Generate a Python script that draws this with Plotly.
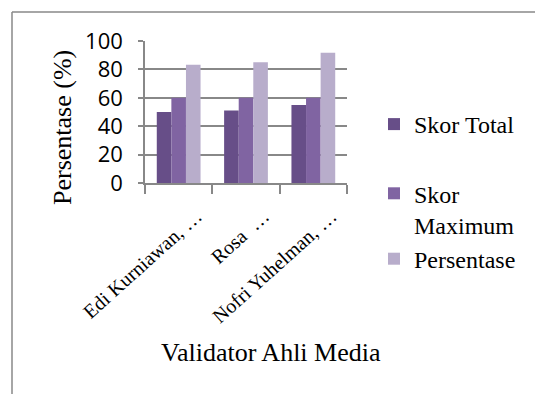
import plotly.graph_objects as go

categories = ["Edi Kurniawan, …", "Rosa  …", "Nofri Yuhelman, …"]
skor_total = [50, 51, 55]
skor_maximum = [60, 60, 60]
persentase = [83.33, 85, 91.67]
series_names = ["Skor Total", "Skor<br>Maximum", "Persentase"]
legend_groups = ["g0", "g1", "g1"]
colors = ["#674E88", "#8064A2", "#B8ADCB"]

W, H = 535, 394
L, R, T, B = 145, 188, 41, 211
pw, ph = W - L - R, H - T - B

def px(xp):
    return (xp - L) / pw

def py(yp):
    return (H - B - yp) / ph

fig = go.Figure()
for i, (name, vals) in enumerate(zip(series_names, [skor_total, skor_maximum, persentase])):
    fig.add_trace(go.Bar(x=categories, y=vals, name=name, marker_color=colors[i],
                         marker_line_width=0, legendgroup=legend_groups[i]))

serif = "Liberation Serif, Times New Roman, serif"
fig.update_layout(
    width=W, height=H,
    margin=dict(l=L, r=R, t=T, b=B, autoexpand=False),
    paper_bgcolor="white", plot_bgcolor="white",
    barmode="group", bargap=0.35, bargroupgap=0,
    showlegend=True,
    legend=dict(x=px(374), y=py(281), xanchor="left", yanchor="bottom",
                font=dict(family=serif, size=24, color="black"),
                tracegroupgap=35, valign="top", bgcolor="rgba(0,0,0,0)"),
    xaxis=dict(type="category", tickson="boundaries", ticks="outside", ticklen=9,
               tickcolor="#888888", tickwidth=1.5, showline=True, linecolor="#888888",
               linewidth=1.5, tickangle=-42, ticklabelshift=18, ticklabelstandoff=12,
               tickfont=dict(family=serif, size=20, color="black")),
    yaxis=dict(range=[0, 100], dtick=20, ticks="outside", ticklen=5, tickcolor="#888888",
               tickwidth=1.5, showline=True, linecolor="#888888", linewidth=1.5,
               showgrid=True, gridcolor="#888888", gridwidth=1.5, zeroline=False,
               ticklabelstandoff=11,
               tickfont=dict(family="Open Sans, sans-serif", size=22, color="black")),
)

fig.add_annotation(text="Persentase (%)", xref="paper", yref="paper", x=px(62), y=py(128),
                   showarrow=False, textangle=-90, xanchor="center", yanchor="middle",
                   font=dict(family=serif, size=26, color="black"))
fig.add_annotation(text="Validator Ahli Media", xref="paper", yref="paper", x=px(271), y=py(353),
                   showarrow=False, xanchor="center", yanchor="middle",
                   font=dict(family=serif, size=26, color="black"))
# chart-area frame (left and top edges visible in the reference)
fig.add_shape(type="line", xref="paper", yref="paper", x0=px(12), x1=px(12), y0=py(400), y1=py(12),
              line=dict(color="#888888", width=1.5), layer="above")
fig.add_shape(type="line", xref="paper", yref="paper", x0=px(12), x1=px(540), y0=py(12), y1=py(12),
              line=dict(color="#888888", width=1.5), layer="above")

fig.write_html("out.html", config={"displayModeBar": False},
               post_script="document.body.style.margin='0';document.body.style.overflow='hidden';")
